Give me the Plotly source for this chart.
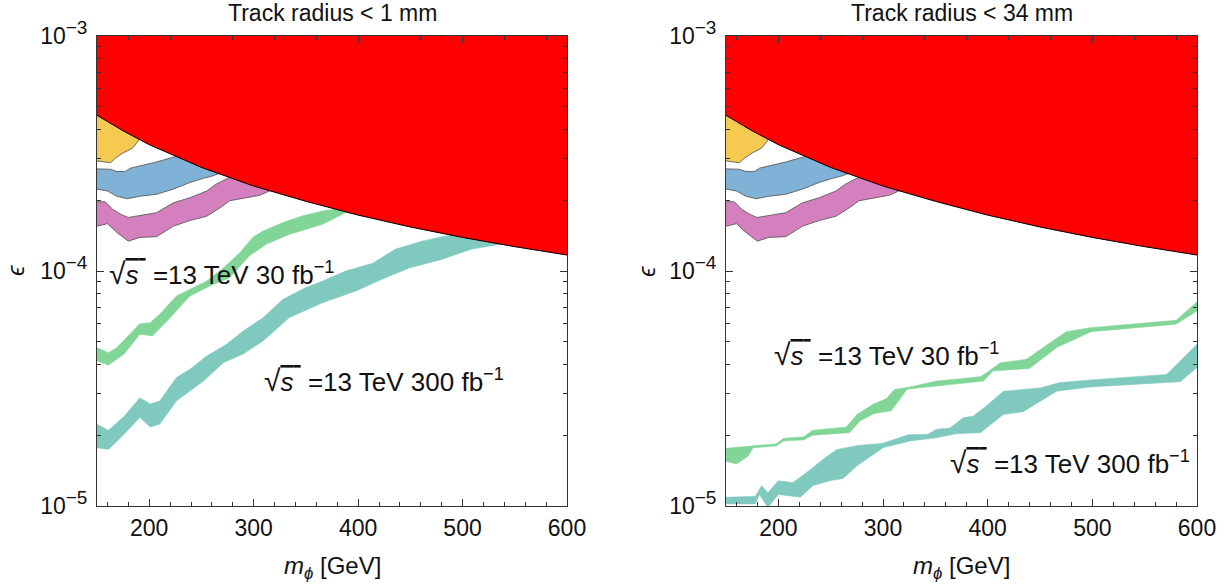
import plotly.graph_objects as go

# ---------------- data ----------------
# Excluded (red) region: lower boundary
m_red = [150, 175, 200, 250, 300, 350, 400, 450, 500, 550, 600]
eps_red = [4.6e-4, 3.95e-4, 3.45e-4, 2.76e-4, 2.3e-4, 1.98e-4, 1.73e-4, 1.54e-4, 1.39e-4, 1.27e-4, 1.17e-4]

# Yellow band (upper edge hidden beneath the red region)
m_yel_lo = [150, 163, 168, 175, 184, 190, 196]
eps_yel_lo = [2.94e-4, 2.89e-4, 3.03e-4, 3.18e-4, 3.33e-4, 3.61e-4, 3.9e-4]
m_yel_hi = [150, 196]
eps_yel_hi = [6.0e-4, 6.0e-4]

# Blue band
m_blu_hi = [150, 163, 169, 177, 182, 191, 207, 223, 250, 290]
eps_blu_hi = [2.72e-4, 2.71e-4, 2.65e-4, 2.65e-4, 2.74e-4, 2.80e-4, 2.91e-4, 3.05e-4, 3.3e-4, 3.3e-4]
m_blu_lo = [150, 160, 169, 179, 191, 207, 223, 239, 252, 261, 274, 290]
eps_blu_lo = [2.23e-4, 2.19e-4, 2.08e-4, 2.03e-4, 2.08e-4, 2.12e-4, 2.23e-4, 2.38e-4, 2.48e-4, 2.54e-4, 2.67e-4, 2.9e-4]

# Pink band
m_pnk_hi = [150, 158, 165, 173, 180, 191, 207, 223, 239, 255, 264, 275, 300, 340]
eps_pnk_hi = [1.97e-4, 1.97e-4, 1.83e-4, 1.74e-4, 1.69e-4, 1.72e-4, 1.77e-4, 1.95e-4, 2.05e-4, 2.19e-4, 2.34e-4, 2.48e-4, 2.7e-4, 2.6e-4]
m_pnk_lo = [150, 160, 169, 180, 191, 207, 223, 239, 255, 268, 277, 293, 306, 315, 340]
eps_pnk_lo = [1.55e-4, 1.59e-4, 1.46e-4, 1.34e-4, 1.39e-4, 1.40e-4, 1.55e-4, 1.64e-4, 1.71e-4, 1.86e-4, 1.99e-4, 2.05e-4, 2.10e-4, 2.19e-4, 2.3e-4]

# Track radius < 1 mm : 30 fb^-1 (green)
m_g1_hi = [150, 161, 169, 191, 201, 210, 226, 239, 255, 271, 287, 299, 309, 328, 347, 366, 385, 420]
eps_g1_hi = [4.72e-5, 4.49e-5, 4.72e-5, 5.97e-5, 6.03e-5, 6.54e-5, 7.83e-5, 8.36e-5, 9.06e-5, 1.03e-4, 1.20e-4, 1.39e-4, 1.48e-4, 1.61e-4, 1.72e-4, 1.80e-4, 1.86e-4, 1.95e-4]
m_g1_lo = [150, 161, 176, 191, 203, 220, 239, 258, 277, 296, 312, 334, 366, 388, 420]
eps_g1_lo = [4.14e-5, 3.98e-5, 4.43e-5, 5.38e-5, 5.29e-5, 6.33e-5, 7.83e-5, 8.63e-5, 9.36e-5, 1.16e-4, 1.30e-4, 1.43e-4, 1.58e-4, 1.77e-4, 1.75e-4]

# Track radius < 1 mm : 300 fb^-1 (teal)
m_t1_hi = [150, 161, 176, 191, 201, 210, 226, 239, 255, 274, 290, 309, 328, 350, 366, 388, 414, 436, 461, 480, 503, 560]
eps_t1_hi = [2.23e-5, 2.10e-5, 2.41e-5, 2.89e-5, 2.72e-5, 2.80e-5, 3.52e-5, 3.82e-5, 4.35e-5, 4.88e-5, 5.56e-5, 6.33e-5, 7.58e-5, 8.50e-5, 9.06e-5, 1.00e-4, 1.08e-4, 1.24e-4, 1.34e-4, 1.40e-4, 1.45e-4, 1.5e-4]
m_t1_lo = [150, 161, 176, 191, 201, 210, 226, 252, 271, 290, 309, 334, 366, 398, 423, 449, 480, 509, 537, 570]
eps_t1_lo = [1.77e-5, 1.74e-5, 2.02e-5, 2.38e-5, 2.17e-5, 2.23e-5, 2.80e-5, 3.40e-5, 4.07e-5, 4.43e-5, 5.04e-5, 6.33e-5, 7.33e-5, 8.22e-5, 9.23e-5, 1.03e-4, 1.12e-4, 1.24e-4, 1.30e-4, 1.35e-4]

# Track radius < 34 mm : 30 fb^-1 (green)
m_g34_hi = [150, 176, 198, 205, 224, 233, 265, 275, 291, 303, 311, 326, 351, 393, 399, 412, 437, 453, 475, 498, 580, 600]
eps_g34_hi = [1.76e-5, 1.80e-5, 1.84e-5, 1.94e-5, 1.97e-5, 2.10e-5, 2.17e-5, 2.45e-5, 2.72e-5, 2.86e-5, 3.13e-5, 3.21e-5, 3.40e-5, 3.55e-5, 3.69e-5, 4.07e-5, 4.21e-5, 4.72e-5, 5.52e-5, 5.74e-5, 6.17e-5, 7.40e-5]
m_g34_lo = [150, 160, 171, 176, 198, 205, 224, 233, 268, 278, 291, 308, 323, 351, 396, 405, 440, 466, 499, 580, 600]
eps_g34_lo = [1.55e-5, 1.51e-5, 1.63e-5, 1.77e-5, 1.80e-5, 1.89e-5, 1.91e-5, 2.00e-5, 2.05e-5, 2.30e-5, 2.47e-5, 2.54e-5, 3.14e-5, 3.24e-5, 3.40e-5, 3.75e-5, 3.85e-5, 4.72e-5, 5.52e-5, 5.93e-5, 6.76e-5]

# Track radius < 34 mm : 300 fb^-1 (teal)
m_t34_hi = [150, 178, 184, 190, 200, 214, 227, 245, 256, 276, 300, 324, 343, 351, 364, 377, 386, 399, 415, 450, 469, 498, 571, 600]
eps_t34_hi = [1.09e-5, 1.10e-5, 1.22e-5, 1.14e-5, 1.28e-5, 1.26e-5, 1.39e-5, 1.61e-5, 1.74e-5, 1.81e-5, 1.85e-5, 2.01e-5, 2.02e-5, 2.12e-5, 2.15e-5, 2.38e-5, 2.41e-5, 2.67e-5, 3.08e-5, 3.18e-5, 3.35e-5, 3.44e-5, 3.63e-5, 4.88e-5]
m_t34_lo = [150, 178, 182, 190, 200, 221, 233, 249, 262, 275, 300, 326, 351, 370, 393, 415, 434, 466, 498, 584, 600]
eps_t34_lo = [1.02e-5, 1.02e-5, 1.12e-5, 9.84e-6, 1.12e-5, 1.09e-5, 1.22e-5, 1.28e-5, 1.31e-5, 1.48e-5, 1.77e-5, 1.89e-5, 1.95e-5, 2.03e-5, 2.05e-5, 2.45e-5, 2.52e-5, 3.08e-5, 3.21e-5, 3.38e-5, 3.88e-5]

panel_titles = ["Track radius < 1 mm", "Track radius < 34 mm"]
x_tick_vals = [200, 300, 400, 500, 600]
x_tick_text = ["200", "300", "400", "500", "600"]
x_minor_vals = [160, 180, 220, 240, 260, 280, 320, 340, 360, 380, 420, 440, 460, 480, 520, 540, 560, 580]
y_tick_vals = [1e-5, 1e-4, 1e-3]
y_tick_text = ["10<sup><span style='font-size:19px'>−5</span></sup>",
               "10<sup><span style='font-size:19px'>−4</span></sup>",
               "10<sup><span style='font-size:19px'>−3</span></sup>"]
y_minor_vals = [k * 1e-5 for k in range(2, 10)] + [k * 1e-4 for k in range(2, 10)]

label_30 = ("<span style='font-size:30px'>√</span><span style='text-decoration:overline'><i>s</i>&nbsp;</span>"
            " =13 TeV 30 fb<sup>−1</sup>")
label_300 = ("<span style='font-size:30px'>√</span><span style='text-decoration:overline'><i>s</i>&nbsp;</span>"
             " =13 TeV 300 fb<sup>−1</sup>")

# ---------------- styling ----------------
W, H = 1230, 588
FONT = "Liberation Sans, Arial, Helvetica, sans-serif"
TXT = "#111111"
C_RED = "#FF0000"
C_YEL = "#F6C951"
C_BLU = "#80B1D6"
C_PNK = "#D580BE"
C_GRN = "#80D597"
C_TEA = "#7FC9BE"
OUTLINE = "rgba(80,80,80,0.9)"
AX = "#333333"

def px_x(p):
    return p / W

def px_y(p):
    return 1 - p / H

dom_x = [[px_x(97), px_x(567)], [px_x(726), px_x(1197)]]
dom_y = [px_y(506), px_y(36)]

fig = go.Figure()

def band(mx_hi, ey_hi, mx_lo, ey_lo, color, outline, xa, ya):
    fig.add_trace(go.Scatter(
        x=list(mx_hi) + list(mx_lo)[::-1],
        y=list(ey_hi) + list(ey_lo)[::-1],
        mode="lines", fill="toself", fillcolor=color,
        line=dict(color=outline if outline else color, width=0.9 if outline else 0.5),
        hoverinfo="skip", showlegend=False, xaxis=xa, yaxis=ya))

panels = [
    ("x", "y", (m_g1_hi, eps_g1_hi, m_g1_lo, eps_g1_lo), (m_t1_hi, eps_t1_hi, m_t1_lo, eps_t1_lo)),
    ("x2", "y2", (m_g34_hi, eps_g34_hi, m_g34_lo, eps_g34_lo), (m_t34_hi, eps_t34_hi, m_t34_lo, eps_t34_lo)),
]

for xa, ya, green, teal in panels:
    band(m_yel_hi, eps_yel_hi, m_yel_lo, eps_yel_lo, C_YEL, OUTLINE, xa, ya)
    band(m_blu_hi, eps_blu_hi, m_blu_lo, eps_blu_lo, C_BLU, OUTLINE, xa, ya)
    band(m_pnk_hi, eps_pnk_hi, m_pnk_lo, eps_pnk_lo, C_PNK, OUTLINE, xa, ya)
    band(*green, C_GRN, None, xa, ya)
    band(*teal, C_TEA, None, xa, ya)
    # red excluded region
    fig.add_trace(go.Scatter(
        x=m_red + [m_red[-1], m_red[0]], y=eps_red + [1e-3, 1e-3],
        mode="lines", fill="toself", fillcolor=C_RED, line=dict(color=C_RED, width=0.5),
        hoverinfo="skip", showlegend=False, xaxis=xa, yaxis=ya))
    fig.add_trace(go.Scatter(
        x=m_red, y=eps_red, mode="lines", line=dict(color="#000000", width=1),
        hoverinfo="skip", showlegend=False, xaxis=xa, yaxis=ya))

common_x = dict(
    range=[150, 600], showline=True, linecolor=AX, linewidth=1, mirror="allticks",
    ticks="inside", ticklen=7, tickwidth=1, tickcolor=AX,
    tickmode="array", tickvals=x_tick_vals, ticktext=x_tick_text,
    tickfont=dict(family=FONT, size=23, color=TXT),
    minor=dict(tickmode="array", tickvals=x_minor_vals, ticks="inside", ticklen=4, tickcolor=AX, tickwidth=1),
    showgrid=False, zeroline=False, ticklabelstandoff=1,
)
common_y = dict(
    type="log", range=[-5, -3], showline=True, linecolor=AX, linewidth=1, mirror="allticks",
    ticks="inside", ticklen=7, tickwidth=1, tickcolor=AX,
    tickmode="array", tickvals=y_tick_vals, ticktext=y_tick_text,
    tickfont=dict(family=FONT, size=23, color=TXT),
    minor=dict(tickmode="array", tickvals=y_minor_vals, ticks="inside", ticklen=4, tickcolor=AX, tickwidth=1),
    showgrid=False, zeroline=False, ticklabelstandoff=4,
)

fig.update_layout(
    width=W, height=H, margin=dict(l=0, r=0, t=0, b=0, autoexpand=False),
    paper_bgcolor="white", plot_bgcolor="white",
    font=dict(family=FONT, size=23, color=TXT),
    xaxis=dict(domain=dom_x[0], anchor="y", **common_x),
    yaxis=dict(domain=dom_y, anchor="x", **common_y),
    xaxis2=dict(domain=dom_x[1], anchor="y2", **common_x),
    yaxis2=dict(domain=dom_y, anchor="x2", **common_y),
    showlegend=False,
)

anns = []
centers = [(97 + 567) / 2, (726 + 1197) / 2]
for i, t in enumerate(panel_titles):
    anns.append(dict(text=t, x=px_x(centers[i]), y=px_y(13), xref="paper", yref="paper",
                     xanchor="center", yanchor="middle", showarrow=False,
                     font=dict(family=FONT, size=23, color=TXT)))
    anns.append(dict(text="<i>m</i><sub><i>ϕ</i></sub> [GeV]", x=px_x(centers[i]), y=px_y(567),
                     xref="paper", yref="paper", xanchor="center", yanchor="middle", showarrow=False,
                     font=dict(family=FONT, size=24, color=TXT)))
for xp in [15, 646]:
    anns.append(dict(text="<i>ϵ</i>", x=px_x(xp), y=px_y(271), xref="paper", yref="paper",
                     xanchor="center", yanchor="middle", textangle=-90, showarrow=False,
                     font=dict(family=FONT, size=24, color=TXT)))

label_pos = [(107, 273, label_30), (262, 380, label_300), (772, 355, label_30), (948, 462, label_300)]
for xp, yp, txt in label_pos:
    anns.append(dict(text=txt, x=px_x(xp), y=px_y(yp), xref="paper", yref="paper",
                     xanchor="left", yanchor="middle", showarrow=False,
                     font=dict(family=FONT, size=26, color=TXT)))

fig.update_layout(annotations=anns)
fig.write_html("out.html", config={"displayModeBar": False},
               post_script="document.body.style.margin='0px';")
